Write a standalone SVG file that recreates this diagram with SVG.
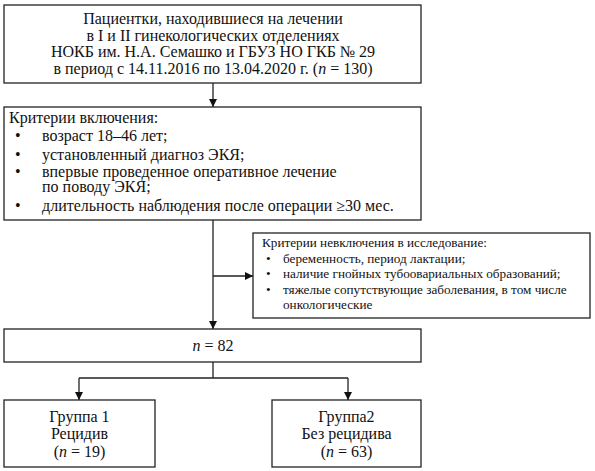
<svg xmlns="http://www.w3.org/2000/svg" width="595" height="471" viewBox="0 0 595 471">
<style>
.box{fill:#fff;stroke:#222;stroke-width:1.3}
.t{font-family:"Liberation Serif","Times New Roman",serif;font-size:16px;fill:#111}
.s{font-family:"Liberation Serif","Times New Roman",serif;font-size:13.2px;fill:#111}
.c{text-anchor:middle}
.ln{fill:none;stroke:#222;stroke-width:1.3}
</style>
<defs>
<marker id="ah" markerWidth="8" markerHeight="8" refX="8" refY="4" orient="auto" markerUnits="userSpaceOnUse">
<path d="M0,0 L8,4 L0,8 Z" fill="#111"/>
</marker>
</defs>
<rect width="595" height="471" fill="#fff"/>
<g id="connectors">
<line class="ln" x1="213" y1="83" x2="213" y2="107" marker-end="url(#ah)"/>
<line class="ln" x1="213" y1="220" x2="213" y2="329" marker-end="url(#ah)"/>
<line class="ln" x1="213" y1="276" x2="253" y2="276" marker-end="url(#ah)"/>
<polyline class="ln" points="213,362 213,378"/>
<polyline class="ln" points="79,378 348,378"/>
<line class="ln" x1="79" y1="378" x2="79" y2="400" marker-end="url(#ah)"/>
<line class="ln" x1="348" y1="378" x2="348" y2="400" marker-end="url(#ah)"/>
</g>
<g id="patients">
<rect class="box" x="4" y="5" width="417" height="78"/>
<text class="t c" x="213" y="24">Пациентки, находившиеся на лечении</text>
<text class="t c" x="213" y="40.5">в I и II гинекологических отделениях</text>
<text class="t c" x="213" y="57">НОКБ им. Н.А. Семашко и ГБУЗ НО ГКБ № 29</text>
<text class="t c" x="213" y="73.5">в период с 14.11.2016 по 13.04.2020 г. (<tspan font-style="italic">n</tspan> = 130)</text>
</g>
<g id="inclusion">
<rect class="box" x="4" y="107" width="417" height="113"/>
<text class="t" x="9" y="123">Критерии включения:</text>
<text class="t" x="15" y="141">•</text><text class="t" x="42" y="141">возраст 18–46 лет;</text>
<text class="t" x="15" y="159.5">•</text><text class="t" x="42" y="159.5">установленный диагноз ЭКЯ;</text>
<text class="t" x="15" y="176.5">•</text><text class="t" x="42" y="176.5">впервые проведенное оперативное лечение</text>
<text class="t" x="42" y="192">по поводу ЭКЯ;</text>
<text class="t" x="15" y="211">•</text><text class="t" x="42" y="211">длительность наблюдения после операции ≥30 мес.</text>
</g>
<g id="exclusion">
<rect class="box" x="253" y="233" width="337" height="85"/>
<text class="s" x="262" y="247">Критерии невключения в исследование:</text>
<text class="s" x="266" y="263">•</text><text class="s" x="283" y="263">беременность, период  лактации;</text>
<text class="s" x="266" y="278">•</text><text class="s" x="283" y="278">наличие гнойных тубоовариальных образований;</text>
<text class="s" x="266" y="294">•</text><text class="s" x="283" y="294">тяжелые сопутствующие заболевания, в том числе</text>
<text class="s" x="283" y="309">онкологические</text>
</g>
<g id="total">
<rect class="box" x="4" y="329" width="417" height="33"/>
<text class="t c" x="213" y="351"><tspan font-style="italic">n</tspan> = 82</text>
</g>
<g id="group1">
<rect class="box" x="4" y="400" width="151" height="67"/>
<text class="t c" x="79.5" y="421.5">Группа 1</text>
<text class="t c" x="79.5" y="439">Рецидив</text>
<text class="t c" x="79.5" y="457">(<tspan font-style="italic">n</tspan> = 19)</text>
</g>
<g id="group2">
<rect class="box" x="272" y="400" width="149" height="67"/>
<text class="t c" x="346.5" y="421.5">Группа2</text>
<text class="t c" x="346.5" y="439">Без рецидива</text>
<text class="t c" x="346.5" y="457">(<tspan font-style="italic">n</tspan> = 63)</text>
</g>
</svg>
